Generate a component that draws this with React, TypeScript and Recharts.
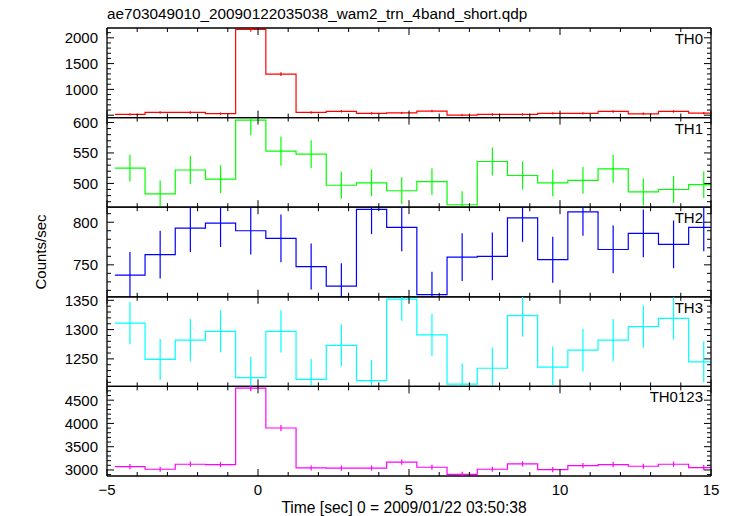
import React from "react";
import { ComposedChart, Line, Scatter, ErrorBar, XAxis, YAxis } from "recharts";

// ---- data ----
const binStarts = [-4.74, -3.74, -2.74, -1.74, -0.74, 0.26, 1.26, 2.26, 3.26, 4.26, 5.26, 6.26, 7.26, 8.26, 9.26, 10.26, 11.26, 12.26, 13.26, 14.26];
const binCenters = [-4.24, -3.24, -2.24, -1.24, -0.24, 0.76, 1.76, 2.76, 3.76, 4.76, 5.76, 6.76, 7.76, 8.76, 9.76, 10.76, 11.76, 12.76, 13.76, 14.76];
const lastBinEnd = 15.26;

const th0 = [516, 554, 554, 529, 2163, 1294, 554, 574, 535, 545, 579, 501, 514, 514, 534, 534, 572, 527, 572, 540];
const th0Err = [23, 24, 24, 23, 47, 36, 24, 24, 23, 23, 24, 22, 23, 23, 23, 23, 24, 23, 24, 23];
const th1 = [525, 483, 522, 507, 604, 553, 548, 497, 501, 488, 503, 465, 536, 513, 501, 505, 524, 486, 490, 498];
const th1Err = [22, 22, 23, 23, 25, 24, 23, 22, 22, 22, 22, 22, 23, 23, 22, 22, 23, 22, 22, 22];
const th2 = [738, 762, 793, 799, 790, 781, 748, 725, 815, 794, 715, 759, 760, 805, 756, 812, 768, 787, 774, 794];
const th2Err = [27, 28, 28, 28, 28, 28, 27, 27, 29, 28, 27, 28, 28, 28, 27, 28, 28, 28, 28, 28];
const th3 = [1311, 1249, 1282, 1297, 1218, 1297, 1215, 1273, 1213, 1352, 1291, 1207, 1234, 1324, 1236, 1265, 1282, 1305, 1319, 1245];
const th3Err = [36, 35, 36, 36, 35, 36, 35, 36, 35, 37, 36, 35, 35, 36, 35, 36, 36, 36, 36, 35];
const th0123 = [3071, 3015, 3123, 3115, 4760, 3902, 3043, 3040, 3040, 3170, 3058, 2907, 3015, 3130, 3007, 3094, 3115, 3080, 3123, 3051];
const th0123Err = [55, 55, 56, 56, 68, 63, 55, 55, 55, 56, 55, 54, 55, 56, 55, 56, 56, 55, 56, 55];

const xTicks = [-5, -4, -3, -2, -1, 0, 1, 2, 3, 4, 5, 6, 7, 8, 9, 10, 11, 12, 13, 14, 15];
const xLabelTicks = [-5, 0, 5, 10, 15];

const th0Ticks = [500, 600, 700, 800, 900, 1000, 1100, 1200, 1300, 1400, 1500, 1600, 1700, 1800, 1900, 2000, 2100];
const th0Labels = [1000, 1500, 2000];
const th1Ticks = [470, 480, 490, 500, 510, 520, 530, 540, 550, 560, 570, 580, 590, 600];
const th1Labels = [500, 550, 600];
const th2Ticks = [720, 730, 740, 750, 760, 770, 780, 790, 800, 810];
const th2Labels = [750, 800];
const th3Ticks = [1210, 1220, 1230, 1240, 1250, 1260, 1270, 1280, 1290, 1300, 1310, 1320, 1330, 1340, 1350];
const th3Labels = [1250, 1300, 1350];
const th0123Ticks = [2900, 3000, 3100, 3200, 3300, 3400, 3500, 3600, 3700, 3800, 3900, 4000, 4100, 4200, 4300, 4400, 4500, 4600, 4700];
const th0123Labels = [3000, 3500, 4000, 4500];

const panelNames = ["TH0", "TH1", "TH2", "TH3", "TH0123"];
const titleText = "ae703049010_20090122035038_wam2_trn_4band_short.qdp";
const xTitle = "Time [sec] 0 = 2009/01/22 03:50:38";
const yTitle = "Counts/sec";

// ---- layout ----
const W = 733;
const H = 516;
const PLOT_LEFT = 107;
const PLOT_RIGHT = 711;
const PANEL_TOP = 28;
const PANEL_H = 89.6;
const AX = 1; // axis box thickness
const FONT = "'Liberation Sans', Arial, Helvetica, sans-serif";

const panels = [
  { name: panelNames[0], vals: th0, errs: th0Err, color: "#ff0000", domain: [453, 2190], ticks: th0Ticks, labels: th0Labels, major: 500 },
  { name: panelNames[1], vals: th1, errs: th1Err, color: "#00ff00", domain: [461, 608], ticks: th1Ticks, labels: th1Labels, major: 50 },
  { name: panelNames[2], vals: th2, errs: th2Err, color: "#0000ff", domain: [712.5, 817.6], ticks: th2Ticks, labels: th2Labels, major: 50 },
  { name: panelNames[3], vals: th3, errs: th3Err, color: "#00ffff", domain: [1203, 1356], ticks: th3Ticks, labels: th3Labels, major: 50 },
  { name: panelNames[4], vals: th0123, errs: th0123Err, color: "#ff00ff", domain: [2870, 4796], ticks: th0123Ticks, labels: th0123Labels, major: 500 },
];

const fmtX = (v: number) => (v < 0 ? "\u2212" + Math.abs(v) : String(v));

const makeXTick = (side: "top" | "bottom", showLabels: boolean) => (props: any) => {
  const { x, y, payload } = props;
  const v = payload.value;
  const isMajor = v % 5 === 0;
  const len = isMajor ? 7 : 4;
  const dir = side === "bottom" ? -1 : 1;
  return (
    <g>
      <line x1={x} x2={x} y1={y} y2={y + dir * len} stroke="#000" strokeWidth={1} />
      {showLabels && xLabelTicks.includes(v) ? (
        <text x={x} y={y + 19} textAnchor="middle" fontSize={15} fontFamily={FONT} fill="#000">
          {fmtX(v)}
        </text>
      ) : null}
    </g>
  );
};

const makeYTick = (side: "left" | "right", major: number, labels: number[]) => (props: any) => {
  const { x, y, payload } = props;
  const v = payload.value;
  const isMajor = v % major === 0;
  const len = isMajor ? 7 : 4;
  const dir = side === "left" ? 1 : -1;
  return (
    <g>
      <line x1={x} x2={x + dir * len} y1={y} y2={y} stroke="#000" strokeWidth={1} />
      {side === "left" && labels.includes(v) ? (
        <text x={x - 9} y={y + 5.5} textAnchor="end" fontSize={15} fontFamily={FONT} fill="#000">
          {v}
        </text>
      ) : null}
    </g>
  );
};

const Panel = ({ p, i }: { p: any; i: number }) => {
  const top = PANEL_TOP + i * PANEL_H;
  const bottom = top + PANEL_H;
  const isLast = i === panels.length - 1;
  const stepData = binStarts.map((t, k) => ({ t, v: p.vals[k] }));
  stepData.push({ t: lastBinEnd, v: p.vals[p.vals.length - 1] });
  const errData = binCenters.map((t, k) => ({ t, v: p.vals[k], err: p.errs[k] }));
  return (
    <>
      <div style={{ position: "absolute", left: 0, top: 0 }}>
        <ComposedChart
          width={W}
          height={H}
          margin={{ top: top - AX, bottom: H - bottom - AX, left: PLOT_LEFT - AX, right: W - PLOT_RIGHT - AX }}
        >
          <XAxis
            xAxisId="b"
            type="number"
            dataKey="t"
            domain={[-5, 15]}
            allowDataOverflow
            ticks={xTicks}
            interval={0}
            height={AX}
            tickSize={0}
            tickMargin={0}
            axisLine={{ stroke: "#000", strokeWidth: 1.3 }}
            tickLine={false}
            tick={makeXTick("bottom", isLast)}
          />
          <XAxis
            xAxisId="t"
            orientation="top"
            type="number"
            dataKey="t"
            domain={[-5, 15]}
            allowDataOverflow
            ticks={xTicks}
            interval={0}
            height={AX}
            tickSize={0}
            tickMargin={0}
            axisLine={{ stroke: "#000", strokeWidth: 1.3 }}
            tickLine={false}
            tick={makeXTick("top", false)}
          />
          <YAxis
            yAxisId="l"
            type="number"
            domain={p.domain}
            allowDataOverflow
            ticks={p.ticks}
            interval={0}
            width={AX}
            tickSize={0}
            tickMargin={0}
            axisLine={{ stroke: "#000", strokeWidth: 1.3 }}
            tickLine={false}
            tick={makeYTick("left", p.major, p.labels)}
          />
          <YAxis
            yAxisId="r"
            orientation="right"
            type="number"
            domain={p.domain}
            allowDataOverflow
            ticks={p.ticks}
            interval={0}
            width={AX}
            tickSize={0}
            tickMargin={0}
            axisLine={{ stroke: "#000", strokeWidth: 1.3 }}
            tickLine={false}
            tick={makeYTick("right", p.major, p.labels)}
          />
          <Line
            xAxisId="b"
            yAxisId="l"
            data={stepData}
            dataKey="v"
            type="stepAfter"
            stroke={p.color}
            strokeWidth={1.2}
            dot={false}
            activeDot={false}
            isAnimationActive={false}
          />
        </ComposedChart>
      </div>
      <div
        style={{
          position: "absolute",
          left: PLOT_LEFT,
          top,
          width: PLOT_RIGHT - PLOT_LEFT,
          height: PANEL_H,
          overflow: "hidden",
        }}
      >
        <div style={{ position: "absolute", left: -PLOT_LEFT, top: -top }}>
          <ComposedChart
            width={W}
            height={H}
            margin={{ top, bottom: H - bottom, left: PLOT_LEFT, right: W - PLOT_RIGHT }}
          >
            <XAxis xAxisId="b" type="number" dataKey="t" domain={[-5, 15]} allowDataOverflow hide />
            <YAxis yAxisId="l" type="number" domain={p.domain} allowDataOverflow hide />
            <Scatter
              xAxisId="b"
              yAxisId="l"
              data={errData}
              dataKey="v"
              shape={() => <g />}
              isAnimationActive={false}
            >
              <ErrorBar dataKey="err" direction="y" width={0} stroke={p.color} strokeWidth={1.2} isAnimationActive={false} />
            </Scatter>
          </ComposedChart>
        </div>
      </div>
    </>
  );
};

export default function App() {
  return (
    <div style={{ position: "absolute", left: 0, top: 0, width: W, height: H, background: "#fff", fontFamily: FONT }}>
      {panels.map((p, i) => (
        <Panel key={p.name} p={p} i={i} />
      ))}
      <svg width={W} height={H} style={{ position: "absolute", left: 0, top: 0, pointerEvents: "none" }}>
        <text x={PLOT_LEFT} y={19} fontSize={15.3} fontFamily={FONT} fill="#000">
          {titleText}
        </text>
        {panels.map((p, i) => (
          <text key={p.name} x={703} y={PANEL_TOP + i * PANEL_H + 16} textAnchor="end" fontSize={15} fontFamily={FONT} fill="#000">
            {p.name}
          </text>
        ))}
        <text x={404} y={513} textAnchor="middle" fontSize={15.6} fontFamily={FONT} fill="#000">
          {xTitle}
        </text>
        <text x={46} y={252} textAnchor="middle" fontSize={15} fontFamily={FONT} fill="#000" transform="rotate(-90 46 252)">
          {yTitle}
        </text>
      </svg>
    </div>
  );
}
